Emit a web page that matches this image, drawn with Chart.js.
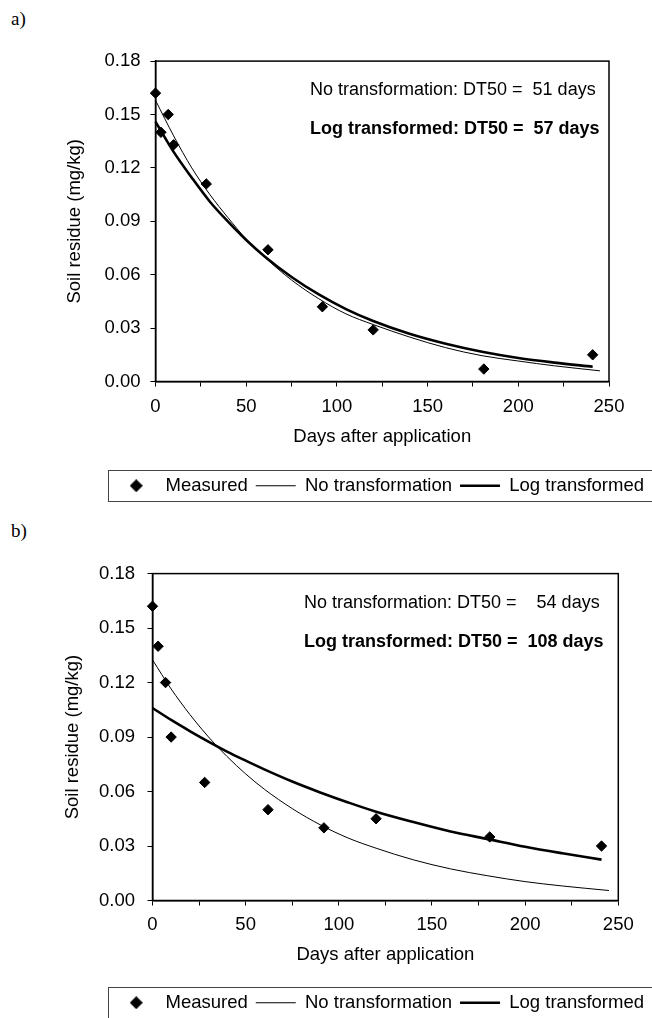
<!DOCTYPE html>
<html>
<head>
<meta charset="utf-8">
<script src="https://cdn.jsdelivr.net/npm/chart.js@4.4.1/dist/chart.umd.min.js"></script>
<style>
  body { margin: 0; background: #fff; width: 652px; height: 1018px; overflow: hidden; position: relative; }
  .panel-label { position: absolute; left: 11px; font-size: 19px; line-height: 22px; font-family: "Liberation Serif", "Times New Roman", serif; color: #000; }
  .chart-box { position: absolute; left: 0; width: 652px; }
</style>
</head>
<body>
<div class="panel-label" style="top:8px">a)</div>
<div class="chart-box" style="top:40px;height:465px"><canvas id="chartA"></canvas></div>
<div class="panel-label" style="top:520px">b)</div>
<div class="chart-box" style="top:550px;height:472px"><canvas id="chartB"></canvas></div>

<script>
// values
const measuredDays = [0, 3, 7, 10, 28, 62, 92, 120, 181, 241];
const measuredA = [0.162, 0.140, 0.150, 0.133, 0.111, 0.074, 0.042, 0.029, 0.007, 0.015];
const measuredB = [0.162, 0.140, 0.120, 0.090, 0.065, 0.050, 0.040, 0.045, 0.035, 0.030];

// fitted curves, sampled by eye along the drawn lines
const noTransDays = [0, 10, 20, 30, 40, 50, 60, 75, 90, 105, 120, 140, 160, 180, 200, 220, 245];
const logTransDays = [0, 10, 20, 30, 40, 50, 60, 75, 90, 105, 120, 140, 160, 180, 200, 220, 241];
const noTransA = [0.158, 0.138, 0.120, 0.105, 0.092, 0.080, 0.070, 0.057, 0.0465, 0.038, 0.032, 0.025, 0.019, 0.0145, 0.0115, 0.0088, 0.006];
const logTransA = [0.146, 0.129, 0.1145, 0.101, 0.0898, 0.0795, 0.0704, 0.0587, 0.0489, 0.0407, 0.034, 0.0268, 0.0212, 0.0167, 0.0132, 0.0106, 0.0083];
const noTransB = [0.1325, 0.1165, 0.1025, 0.0901, 0.0793, 0.0697, 0.0613, 0.0506, 0.0417, 0.0344, 0.0288, 0.0224, 0.0174, 0.0136, 0.0104, 0.0080, 0.0055];
const logTransB = [0.106, 0.0994, 0.0933, 0.0875, 0.0820, 0.0770, 0.0722, 0.0655, 0.0595, 0.0540, 0.0489, 0.0432, 0.0380, 0.0338, 0.0296, 0.0260, 0.0225];

const seriesNames = ['Measured', 'No transformation', 'Log transformed'];
const xTicks = [0, 25, 50, 75, 100, 125, 150, 175, 200, 225, 250];
const xTickLabels = ['0', '50', '100', '150', '200', '250'];
const yTicks = [0, 0.03, 0.06, 0.09, 0.12, 0.15, 0.18];
const yTickLabels = ['0.00', '0.03', '0.06', '0.09', '0.12', '0.15', '0.18'];
const notesA = ['No transformation: DT50 =  51 days', 'Log transformed: DT50 =  57 days'];
const notesB = ['No transformation: DT50 =    54 days', 'Log transformed: DT50 =  108 days'];

Chart.defaults.font.family = '"Liberation Sans", Arial, sans-serif';
Chart.defaults.font.size = 18.5;
Chart.defaults.color = '#000';

// small filled diamond for the legend entry
function makeDiamond(size) {
    const c = document.createElement('canvas');
    c.width = size;
    c.height = size;
    const g = c.getContext('2d');
    g.fillStyle = '#000';
    g.beginPath();
    g.moveTo(size / 2, 0);
    g.lineTo(size, size / 2);
    g.lineTo(size / 2, size);
    g.lineTo(0, size / 2);
    g.closePath();
    g.fill();
    return c;
}
const diamond = makeDiamond(13);

// box round the plot area
const framePlugin = {
    id: 'frame',
    afterDatasetsDraw(chart) {
        const { ctx, chartArea: a } = chart;
        ctx.save();
        ctx.strokeStyle = '#000';
        ctx.lineWidth = 1.5;
        ctx.strokeRect(a.left, a.top, a.right - a.left, a.bottom - a.top);
        ctx.restore();
    }
};

// DT50 notes inside the plot
const notesPlugin = {
    id: 'notes',
    afterDraw(chart, args, opts) {
        const { ctx, chartArea: a } = chart;
        ctx.save();
        ctx.fillStyle = '#000';
        ctx.textBaseline = 'middle';
        ctx.textAlign = 'left';
        ctx.font = '18px "Liberation Sans", Arial, sans-serif';
        ctx.fillText(opts.lines[0], a.left + opts.dx, a.top + 29);
        ctx.font = 'bold 18px "Liberation Sans", Arial, sans-serif';
        ctx.fillText(opts.lines[1], a.left + opts.dx, a.top + 68);
        ctx.restore();
    }
};

// border round the legend, running off the right edge
const legendBoxPlugin = {
    id: 'legendBox',
    afterDraw(chart) {
        const hb = chart.legend.legendHitBoxes;
        if (!hb || !hb.length) return;
        const ctx = chart.ctx;
        const cy = hb[0].top + hb[0].height / 2;
        ctx.save();
        ctx.strokeStyle = '#444';
        ctx.lineWidth = 1;
        ctx.strokeRect(Math.round(hb[0].left - 8) + 0.5, Math.round(cy - 15.5) + 0.5, chart.width, 31);
        ctx.restore();
    }
};

function points(xs, ys) {
    return xs.map((x, i) => ({ x: x, y: ys[i] }));
}

function makeChart(id, measured, noTrans, logTrans, notes, o) {
    const ctx = document.getElementById(id).getContext('2d');
    return new Chart(ctx, {
        type: 'scatter',
        data: {
            datasets: [{
                label: seriesNames[0],
                data: points(measuredDays, measured),
                showLine: false,
                pointStyle: 'rectRot',
                pointRadius: 5.2,
                pointBackgroundColor: '#000',
                pointBorderColor: '#000',
                borderWidth: 1,
                clip: false
            }, {
                label: seriesNames[1],
                data: points(noTransDays, noTrans),
                showLine: true,
                borderColor: '#000',
                borderWidth: 1,
                pointRadius: 0,
                pointStyle: 'line',
                cubicInterpolationMode: 'monotone',
                clip: false
            }, {
                label: seriesNames[2],
                data: points(logTransDays, logTrans),
                showLine: true,
                borderColor: '#000',
                borderWidth: 2.6,
                pointRadius: 0,
                pointStyle: 'line',
                cubicInterpolationMode: 'monotone',
                clip: false
            }]
        },
        options: {
            responsive: true,
            maintainAspectRatio: false,
            animation: false,
            layout: { padding: { top: o.padTop, left: 0, right: 0, bottom: 0 } },
            scales: {
                x: {
                    type: 'linear',
                    min: 0,
                    max: 250,
                    afterBuildTicks: s => { s.ticks = xTicks.map(v => ({ value: v })); },
                    afterFit: s => { s.height = o.xAxisHeight; },
                    ticks: {
                        padding: o.xTickPad,
                        autoSkip: false,
                        maxRotation: 0,
                        callback: v => xTickLabels.includes(String(v)) ? String(v) : ''
                    },
                    grid: { drawOnChartArea: false, tickLength: 5, tickColor: '#000' },
                    border: { color: '#000', width: 1.5 },
                    title: {
                        display: true,
                        text: 'Days after application',
                        padding: { top: 0, bottom: o.xTitlePad }
                    }
                },
                y: {
                    min: 0,
                    max: 0.18,
                    afterBuildTicks: s => { s.ticks = yTicks.map(v => ({ value: v })); },
                    afterFit: s => { s.width = o.yAxisWidth; },
                    ticks: {
                        padding: o.yTickPad,
                        callback: (v, i) => yTickLabels[i]
                    },
                    grid: { drawOnChartArea: false, tickLength: 5, tickColor: '#000' },
                    border: { color: '#000', width: 1.5 },
                    title: {
                        display: true,
                        text: 'Soil residue (mg/kg)',
                        padding: { top: o.titleLeft, bottom: 0 }
                    }
                },
                // empty axis that only keeps the gap right of the plot
                y2: {
                    position: 'right',
                    afterFit: s => { s.width = o.rightGap; },
                    grid: { display: false },
                    ticks: { display: false },
                    border: { display: false }
                }
            },
            plugins: {
                legend: {
                    position: 'bottom',
                    align: 'end',
                    labels: {
                        usePointStyle: true,
                        pointStyleWidth: 40,
                        padding: 8,
                        color: '#000',
                        generateLabels: chart => {
                            const items = Chart.defaults.plugins.legend.labels.generateLabels(chart);
                            items[0].pointStyle = diamond;
                            return items;
                        }
                    }
                },
                tooltip: { enabled: false },
                notes: { lines: notes, dx: o.noteDx }
            }
        },
        plugins: [framePlugin, notesPlugin, legendBoxPlugin]
    });
}

makeChart('chartA', measuredA, noTransA, logTransA, notesA, {
    padTop: 21, yAxisWidth: 155.5, rightGap: 43, xAxisHeight: 87,
    titleLeft: 64, xTickPad: 9, xTitlePad: 20.7, yTickPad: 10, noteDx: 154.5
});

makeChart('chartB', measuredB, noTransB, logTransB, notesB, {
    padTop: 23.3, yAxisWidth: 152.5, rightGap: 33.7, xAxisHeight: 85,
    titleLeft: 62, xTickPad: 8.4, xTitlePad: 19.4, yTickPad: 12.5, noteDx: 151.5
});
</script>
</body>
</html>
